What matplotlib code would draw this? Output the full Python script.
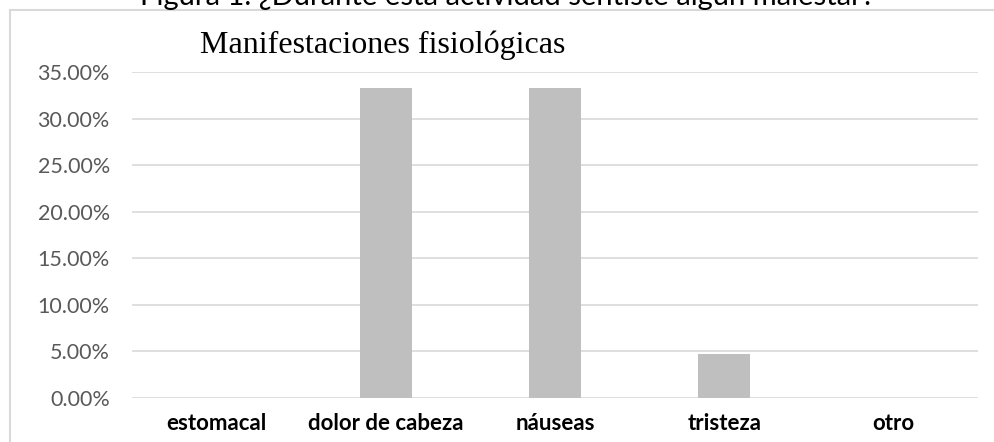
import matplotlib.pyplot as plt
from matplotlib.patches import Rectangle
from matplotlib.ticker import PercentFormatter

categories = ["estomacal", "dolor de cabeza", "náuseas", "tristeza", "otro"]
values = [0.0, 0.3333, 0.3333, 0.0476, 0.0]
yticks = [0.0, 0.05, 0.10, 0.15, 0.20, 0.25, 0.30, 0.35]

W, H = 995, 442
fig = plt.figure(figsize=(W / 100, H / 100), dpi=100)

# outer chart frame, runs off the right and bottom edges
fig.patches.append(Rectangle((10 / W, -0.1), 1.2, (H - 10) / H + 0.1,
                             transform=fig.transFigure, fill=False,
                             edgecolor="#d9d9d9", linewidth=1.5))

ax = fig.add_axes([132 / W, (H - 398) / H, (978 - 132) / W, (398 - 72) / H])
ax.bar(range(len(categories)), values, width=0.31, color="#bfbfbf", zorder=2)
ax.set_xlim(-0.5, len(categories) - 0.5)
ax.set_ylim(0, 0.35)
ax.set_yticks(yticks)
ax.yaxis.set_major_formatter(PercentFormatter(1.0, decimals=2))
ax.set_xticks(range(len(categories)))
ax.set_xticklabels(categories)
ax.grid(axis="y", color="#d9d9d9", linewidth=1.2, zorder=0)
ax.set_axisbelow(True)
for s in ax.spines.values():
    s.set_visible(False)
ax.tick_params(axis="y", length=0, pad=16, labelsize=15.5, labelcolor="#595959")
ax.tick_params(axis="x", length=0, pad=11, labelsize=16)
for lab in ax.get_yticklabels():
    lab.set_family("Lato")
for lab in ax.get_xticklabels():
    lab.set_family("Lato")
    lab.set_fontweight("bold")

fig.text(200 / W, (H - 53) / H, "Manifestaciones fisiológicas",
         family="Liberation Serif", fontsize=23, va="baseline", ha="left")
fig.text(507 / W, (H - 5) / H,
         "Figura 1. ¿Durante esta actividad sentiste algún malestar?",
         family="Lato", fontsize=21, va="baseline", ha="center", color="#000000")

fig.savefig("out.png", dpi=100)
